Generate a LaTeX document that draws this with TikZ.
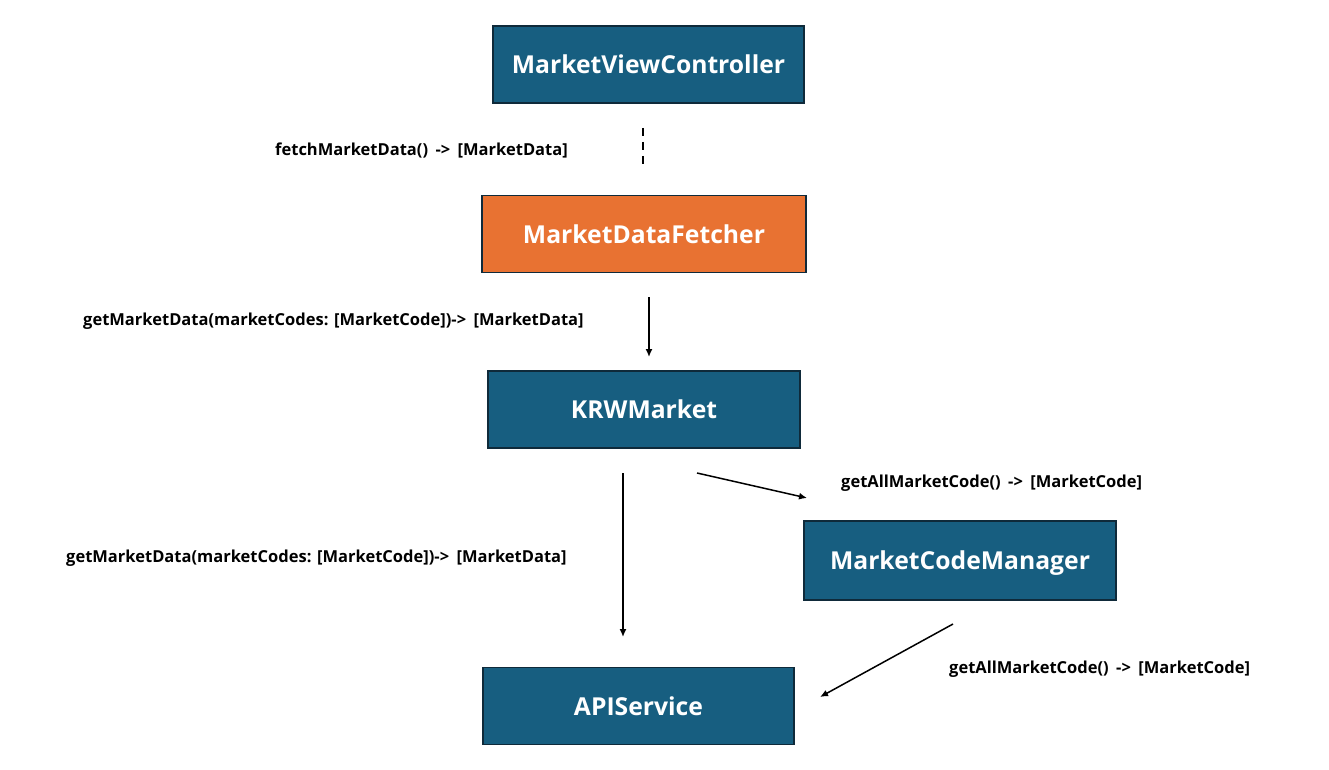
\documentclass[tikz,border=0pt]{standalone}
\usepackage{fontspec}
\setmainfont{Open Sans}
\usetikzlibrary{arrows.meta}
\definecolor{boxblue}{HTML}{175E80}
\definecolor{boxorange}{HTML}{E87232}
\definecolor{boxedge}{HTML}{0F2A3A}
\newcommand{\wsp}{\hspace{0.45em}}
\begin{document}
\begin{tikzpicture}[x=1pt,y=-1pt,
  box/.style={draw=boxedge,line width=1.5pt,fill=boxblue,text=white,
    font=\fontsize{24.7}{28}\selectfont\bfseries,minimum width=311pt,minimum height=77pt,inner sep=0pt,
    text depth=0pt,yshift=-0pt},
  lbl/.style={font=\fontsize{16.5}{19}\selectfont\bfseries,inner sep=0pt,anchor=west},
  conn/.style={line width=1.5pt,-{Latex[length=8pt,width=7pt]}}]
\useasboundingbox (0,0) rectangle (1329,770);
\fill[white] (0,0) rectangle (1329,770);
\node[box] (mvc) at (648.5,64.5) {MarketViewController};
\node[box,fill=boxorange,minimum width=324pt] (mdf) at (644,234) {MarketDataFetcher};
\node[box,minimum width=312pt] (krw) at (644,409.5) {KRWMarket};
\node[box,minimum width=312pt,minimum height=79pt] (mcm) at (960,560.5) {MarketCodeManager};
\node[box] (api) at (638.5,706) {APIService};
\coordinate (d1) at (643,128);
\coordinate (d2) at (643,168);
\coordinate (a1s) at (649,297);
\coordinate (a1e) at (649,357);
\coordinate (a2s) at (623,473);
\coordinate (a2e) at (623,637);
\coordinate (a3s) at (697,473);
\coordinate (a3e) at (807,498);
\coordinate (a4s) at (953,624);
\coordinate (a4e) at (820,697);
\draw[line width=1.5pt,dash pattern=on 8pt off 6pt] (d1) -- (d2);
\draw[conn] (a1s) -- (a1e);
\draw[conn] (a2s) -- (a2e);
\draw[conn] (a3s) -- (a3e);
\draw[conn] (a4s) -- (a4e);
\node[lbl] (l1) at (275,150) {fetchMarketData()\wsp->\wsp[MarketData]};
\node[lbl] (l2) at (83,321) {getMarketData(marketCodes: [MarketCode])->\wsp[MarketData]};
\node[lbl] (l3) at (66,558) {getMarketData(marketCodes: [MarketCode])->\wsp[MarketData]};
\node[lbl] (l4) at (841,483) {getAllMarketCode()\wsp->\wsp[MarketCode]};
\node[lbl] (l5) at (949,669) {getAllMarketCode()\wsp->\wsp[MarketCode]};
\end{tikzpicture}
\end{document}
